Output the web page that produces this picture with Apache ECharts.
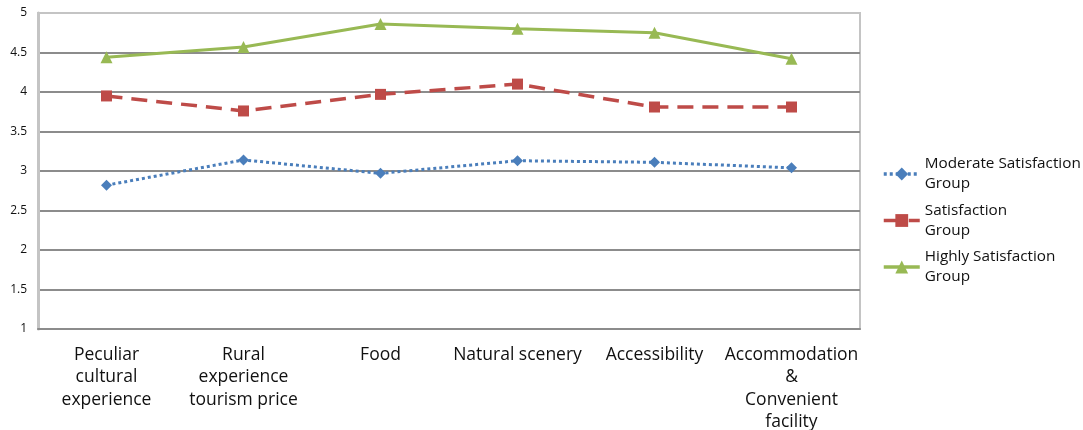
<!DOCTYPE html>
<html>
<head>
<meta charset="utf-8">
<script src="https://cdn.jsdelivr.net/npm/echarts@6/dist/echarts.min.js"></script>
<style>
  html, body { margin: 0; padding: 0; background: #fff; }
  #chart { width: 1083px; height: 430px; }
</style>
</head>
<body>
<div id="chart"></div>
<script>
const categories = [
  'Peculiar\ncultural\nexperience',
  'Rural\nexperience\ntourism price',
  'Food',
  'Natural scenery',
  'Accessibility',
  'Accommodation\n&\nConvenient\nfacility'
];
const moderateGroup = [2.82, 3.14, 2.97, 3.13, 3.11, 3.04];
const satisfactionGroup = [3.95, 3.76, 3.97, 4.10, 3.81, 3.81];
const highlyGroup = [4.44, 4.57, 4.86, 4.80, 4.75, 4.42];
const seriesNames = ['Moderate Satisfaction', 'Satisfaction', 'Highly Satisfaction'];

const font = 'Open Sans';
const chart = echarts.init(document.getElementById('chart'));

chart.setOption({
  animation: false,
  grid: {
    left: 38, right: 223, top: 13, bottom: 101,
    outerBoundsMode: 'none',
    show: true, borderColor: '#c4c4c4', borderWidth: 2
  },
  legend: {
    orient: 'vertical',
    left: 882,
    top: 144,
    padding: 0,
    itemWidth: 36,
    itemHeight: 16,
    itemGap: -13.5,
    lineStyle: { width: 3.5 },
    formatter: name => name + '\nGroup',
    textStyle: {
      fontFamily: font, fontSize: 15.3, color: '#111',
      lineHeight: 20, padding: [20, 0, 0, 0]
    },
    data: seriesNames
  },
  xAxis: {
    type: 'category',
    data: categories,
    boundaryGap: true,
    axisLine: { show: true, lineStyle: { color: '#8c8c8c', width: 2 } },
    axisTick: { show: false },
    axisLabel: {
      fontFamily: font, fontSize: 17.5, color: '#111',
      lineHeight: 22.3, margin: 15, interval: 0, align: 'center'
    }
  },
  yAxis: {
    type: 'value',
    min: 1, max: 5, interval: 0.5,
    axisLine: { show: true, lineStyle: { color: '#c4c4c4', width: 3 } },
    axisTick: { show: false },
    axisLabel: { fontFamily: font, fontSize: 12, color: '#111', margin: 11 },
    splitLine: {
      show: true, showMaxLine: false,
      lineStyle: { color: '#8c8c8c', width: 2 }
    }
  },
  series: [
    {
      name: seriesNames[0],
      type: 'line',
      data: moderateGroup,
      symbol: 'diamond', symbolSize: 11,
      lineStyle: { color: '#4a7ebb', width: 3, type: [3, 3] },
      itemStyle: { color: '#4a7ebb' }
    },
    {
      name: seriesNames[1],
      type: 'line',
      data: satisfactionGroup,
      symbol: 'rect', symbolSize: 11,
      lineStyle: { color: '#be4b48', width: 3.5, type: [16, 9] },
      itemStyle: { color: '#be4b48' }
    },
    {
      name: seriesNames[2],
      type: 'line',
      data: highlyGroup,
      symbol: 'triangle', symbolSize: 12,
      lineStyle: { color: '#98b954', width: 3 },
      itemStyle: { color: '#98b954' }
    }
  ]
});
</script>
</body>
</html>
